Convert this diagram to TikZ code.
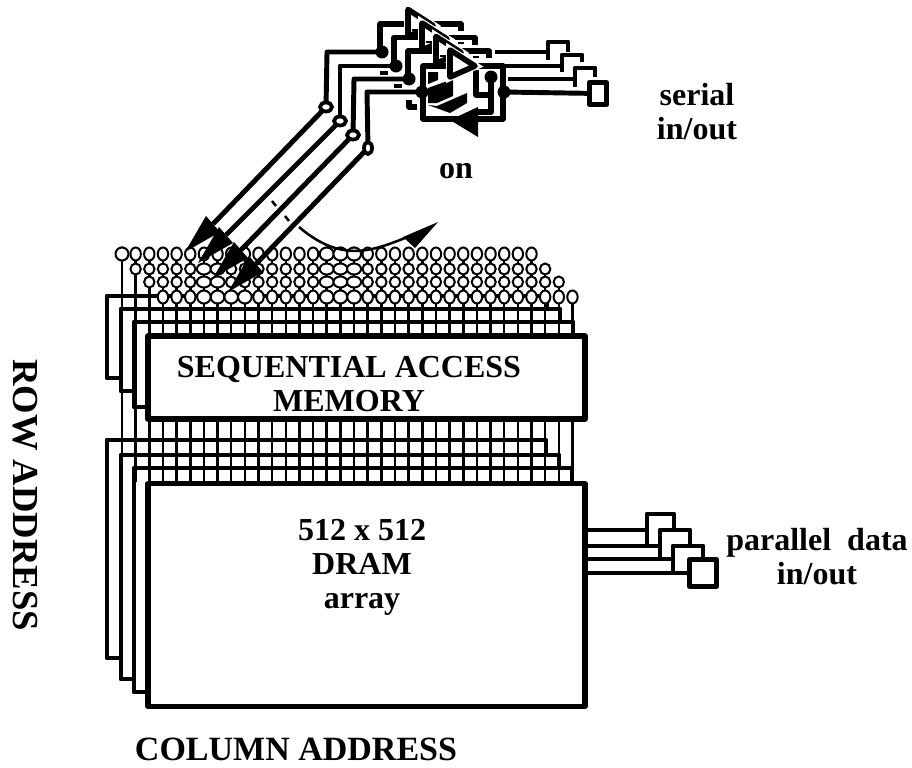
\documentclass[tikz,border=0pt]{standalone}
\usepackage{fontspec}
\setmainfont{Liberation Serif}
\usetikzlibrary{calc}
\tikzset{
    wire/.style={line width=3.7pt, line join=round},
    cell wire/.style={line width=4.2pt, line join=round},
    grid line/.style={line width=1.9pt},
    memory box/.style={draw, fill=white, line width=3.8pt, line join=round, inner sep=0pt},
    pad box/.style={draw, fill=white, line width=3.7pt, line join=round, inner sep=0pt},
    tap/.style={draw, fill=white, line width=1.5pt},
    joint/.style={draw, fill=white, line width=2.8pt},
    halo/.style={preaction={draw=white, line width=6pt}},
    caption/.style={font=\fontsize{24}{25.5}\selectfont\bfseries, align=center, inner sep=0pt},
}
\begin{document}
\begin{tikzpicture}[x=0.75pt, y=-0.75pt]
    \useasboundingbox (0,0) rectangle (912,767);

    % Bit lines running through both memories
    \foreach \i/\ytop in {0/254,1/254,2/254,3/254,4/254,5/254,6/254,7/254,8/254,9/254,10/254,11/254,12/254,13/254,14/254,15/254,16/254,17/254,18/254,19/254,20/254,21/254,22/254,23/254,24/254,25/254,26/254,27/254,28/254,29/254,30/254,31/269,32/282,33/297}
        \draw[grid line] ({122+13.65*\i},\ytop) -- ({122+13.65*\i},482);

    % Taps above the serial memory
    \foreach \ry/\yrow/\first/\last in {6.5/254/0/30,5.5/269/1/31,5.5/282/2/32}
        \foreach \i in {\first,...,\last}
            \draw[tap] ({122+13.65*\i},\yrow) ellipse [x radius=5.2, y radius=\ry];
    \foreach \ry/\yrow in {6.5/254,5.5/269,5.5/282}
        \foreach \i in {15,16,17}
            \draw[tap] ({122+13.65*\i},\yrow) ellipse [x radius=7, y radius=\ry];
    \foreach \ry/\yrow in {5.5/269,5.5/282}
        \foreach \i in {6,7}
            \draw[tap] ({122+13.65*\i},\yrow) ellipse [x radius=7, y radius=\ry];
    \draw[tap] (122,254) circle [radius=6.5];

    % Back layers of the serial memory
    \draw[wire] (547,309) -- (547,296) -- (107,296) -- (107,378) -- (121,378);
    \draw[wire] (560,322) -- (560,309) -- (121,309) -- (121,391) -- (134,391);
    \draw[wire] (573,336) -- (573,322) -- (134,322) -- (134,407) -- (148,407);
    \foreach \i in {3,...,33}
        \draw[tap] ({122+13.65*\i},297) ellipse [x radius=5.2, y radius=6.5];
    \foreach \i in {6,7,8,9,15,16,17}
        \draw[tap] ({122+13.65*\i},297) ellipse [x radius=6.8, y radius=6.5];

    \node[memory box, minimum width=327.75pt, minimum height=62.25pt] (sam) at (366.5,377.5) {};
    \node[caption] (samtext) at (349,384) {SEQUENTIAL ACCESS\\MEMORY};

    % Back layers of the DRAM
    \draw[wire] (546,455) -- (546,440) -- (107,440) -- (107,658) -- (121,658);
    \draw[wire] (559,468) -- (559,455) -- (121,455) -- (121,679) -- (134,679);
    \draw[wire] (572,482) -- (572,468) -- (134,468) -- (134,692) -- (148,692);
    \node[memory box, minimum width=327.75pt, minimum height=167pt] (dram) at (366.5,595) {};
    \node[caption] (dramtext) at (362,567) {512 x 512\\DRAM\\array};

    % Parallel data pads
    \coordinate (d1) at (585,530);
    \coordinate (d2) at (585,546);
    \coordinate (d3) at (585,559);
    \coordinate (d4) at (585,573);
    \draw[wire] (d1) -- (647,530);
    \draw[wire] (d2) -- (660,546);
    \draw[wire] (d3) -- (673,559);
    \draw[wire] (674,530) -- (674,514) -- (647,514) -- (647,546) -- (660,546);
    \draw[wire] (690,546) -- (690,530) -- (660,530) -- (660,559) -- (673,559);
    \draw[wire] (703,559) -- (703,546) -- (673,546) -- (673,573);
    \node[pad box, minimum size=20pt] (datapad) at (703,573) {};
    \draw[wire] (d4) -- (datapad);

    % Switch cells, back to front
    \foreach \k in {3,2,1} {
        \begin{scope}[shift={({-14*\k},{-13.5*\k})}]
            \draw[cell wire] (422,92) -- (422,64.5) -- (503,64.5) -- (503,72);
            \draw[cell wire, fill=white, halo] (450,50) -- (475,66) -- (450,77) -- cycle;
        \end{scope}
    }
    \foreach \xdash/\ydash in {415/30,429/42,443/56,461/43,476/57}
        \draw[grid line] (\xdash-3,\ydash) -- (\xdash+3,\ydash);

    % Bus up to the switch cells
    \coordinate (b1) at (327,52);
    \coordinate (b2) at (340,66);
    \coordinate (b3) at (354,79);
    \coordinate (b4) at (367,92);
    \draw[wire] (326,107) -- (b1) -- (382,52);
    \draw[wire] (340,121) -- (b2) -- (396,66);
    \draw[wire] (353,135) -- (b3) -- (409,79);
    \draw[wire] (368,148) -- (b4) -- (422,92);
    \foreach \xdot/\ydot in {382/52,396/66,409/79,491/77}
        \fill (\xdot,\ydot) circle [radius=6.5];
    \draw[wire, line width=2.6pt] (380,73) -- (388,73);
    \draw[wire, line width=2.6pt] (394,86) -- (402,86);
    \draw[cell wire] (409,100) -- (409,107) -- (417,107);

    % Hidden read buffers
    \fill (428,72) -- (438,72) -- (438,80) -- (428,84) -- cycle;
    \fill (428,88) -- (453,79) -- (453,96) -- (437,103) -- (428,103) -- cycle;
    \fill (428,105) -- (437,106) -- (467,93) -- (467,103) -- (450,113) -- cycle;
    \draw[cell wire] (476,70) -- (476,95) -- (491,95) -- (491,77);
    \draw[cell wire] (491,95) -- (491,112) -- (478,112);

    % Front switch cell
    \draw[cell wire] (423,66) rectangle (503,119);
    \fill (422,92) circle [radius=6.5];
    \fill (504,92) circle [radius=6.5];
    \draw[cell wire, fill=white, halo] (450,50) -- (475,66) -- (450,77) -- cycle;
    \fill (450,120) -- (478,107) -- (478,137) -- cycle;

    % Serial pads
    \draw[wire] (495,52) -- (548,52);
    \draw[wire] (503,66) -- (562,66);
    \draw[wire] (508,79) -- (575,79);
    \draw[wire] (568,52) -- (568,42) -- (548,42) -- (548,60);
    \draw[wire] (582,62) -- (582,55) -- (562,55) -- (562,72);
    \draw[wire] (595,77) -- (595,68) -- (575,68) -- (575,87);
    \node[pad box, minimum width=13pt, minimum height=16.5pt] (serialpad) at (598,93.5) {};
    \draw[wire] (504,92) -- (serialpad);

    % Diagonal bus
    \coordinate (h1) at (185,252);
    \coordinate (h2) at (198,263);
    \coordinate (h3) at (213,278);
    \coordinate (h4) at (228,292);
    \draw[wire] (326,107) -- ($(h1)+(28,-28)$);
    \draw[wire] (340,121) -- ($(h2)+(28,-28)$);
    \draw[wire] (353,135) -- ($(h3)+(28,-28)$);
    \draw[wire] (368,148) -- ($(h4)+(28,-28)$);
    \draw[joint] (326,107) ellipse [x radius=6, y radius=4.5];
    \draw[joint] (340,121) ellipse [x radius=6, y radius=4.5];
    \draw[joint] (353,135) ellipse [x radius=6, y radius=4.5];
    \draw[joint] (368,148) ellipse [x radius=4, y radius=6];
    \foreach \h in {h1,h2,h3,h4}
        \fill (\h) -- ++(21,-36) -- ++(14,16) -- cycle;
    \draw[grid line] (272,201) -- (276,206);
    \draw[grid line] (285,216) -- (289,221);

    % Transfer arrow
    \coordinate (sweepstart) at (299,227);
    \coordinate (sweepend) at (405,238);
    \draw[grid line] (sweepstart) .. controls (340,262) and (370,252) .. (sweepend);
    \fill (438,222) -- (403,237) -- (415,248) -- cycle;

    % Labels
    \node[caption] (onlabel) at (456,171) {on};
    \node[caption] (seriallabel) at (697,112) {serial\\in/out};
    \node[caption] (datalabel) at (817,557) {parallel\ \ data\\in/out};
    \node[caption, font=\fontsize{25.5}{27}\selectfont\bfseries] (columnlabel) at (296,749) {COLUMN ADDRESS};
    \node[caption, font=\fontsize{27.5}{27}\selectfont\bfseries, rotate=-90] (rowlabel) at (25,495) {ROW ADDRESS};
\end{tikzpicture}
\end{document}
